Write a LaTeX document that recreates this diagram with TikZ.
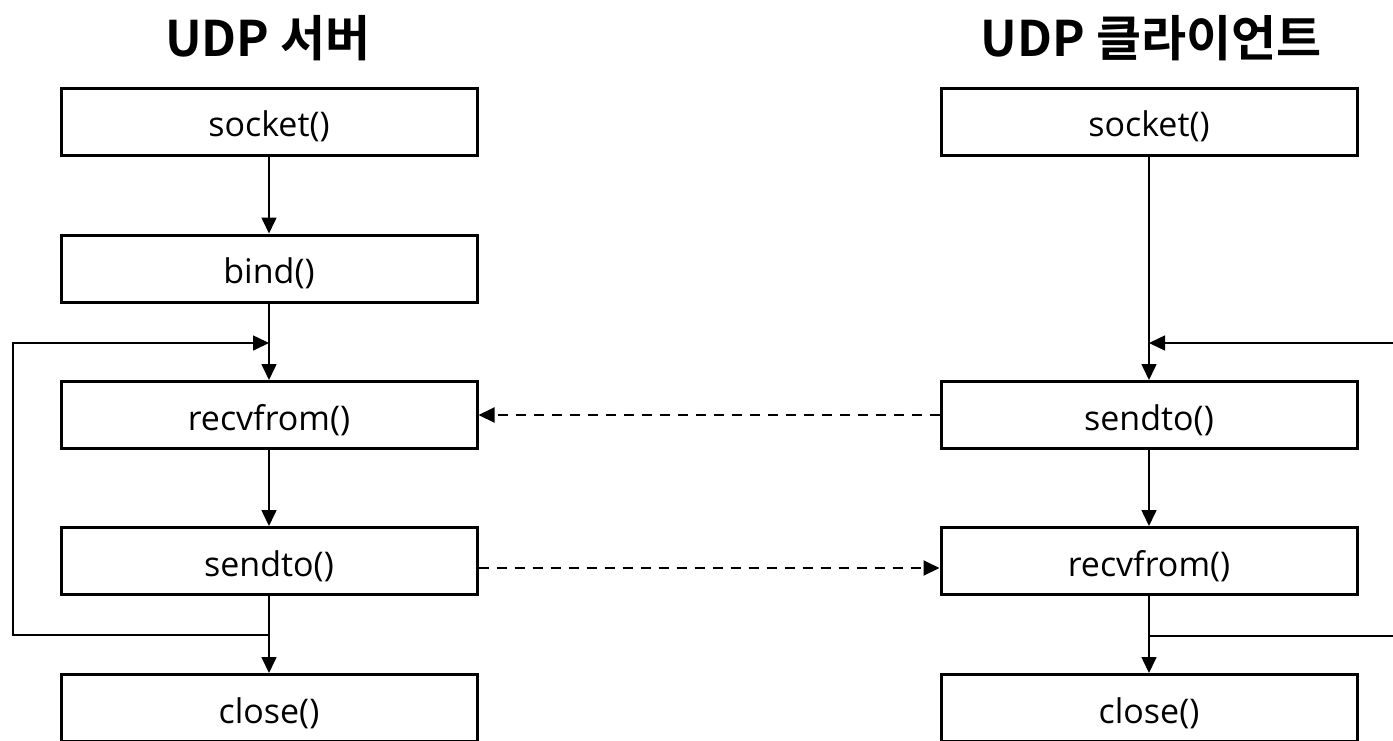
\documentclass[tikz,border=0pt]{standalone}
\usepackage{fontspec}
\setmainfont{Open Sans}
\newfontfamily\kr{Noto Sans CJK KR}[BoldFont={Noto Sans CJK KR Bold}]
\usetikzlibrary{arrows.meta,calc}
\begin{document}
\begin{tikzpicture}[x=1pt,y=-1pt,
  box/.style={draw, line width=3pt, minimum width=416pt, minimum height=67pt, inner sep=0pt, text height=30pt, text depth=0pt, font=\fontsize{34}{40}\selectfont},
  title/.style={font=\kr\bfseries\fontsize{49}{55}\selectfont, inner sep=0pt},
  arr/.style={-{Triangle[length=16pt,width=15pt]}, line width=1.6pt},
  plain/.style={line width=1.6pt},
  darr/.style={-{Triangle[length=16pt,width=15pt]}, line width=2pt, dash pattern=on 10pt off 8pt}]
\useasboundingbox (0,0) rectangle (1393,740);
\node[title] (t1) at (268,38) {UDP 서버};
\node[title] (t2) at (1151,38) {UDP 클라이언트};
% server
\node[box] (ls) at (269,121.5) {socket()};
\node[box] (lb) at (269,268.5) {bind()};
\node[box] (lr) at (269,415) {recvfrom()};
\node[box] (lsd) at (269,561) {sendto()};
\node[box] (lc) at (269,708) {close()};
% client
\node[box] (rs) at (1149,121.5) {socket()};
\node[box] (rsd) at (1149,415) {sendto()};
\node[box] (rr) at (1149,561) {recvfrom()};
\node[box] (rc) at (1149,708) {close()};
% server arrows
\draw[arr] (ls.south) -- (lb.north);
\draw[arr] (lb.south) -- (lr.north);
\draw[arr] (lr.south) -- (lsd.north);
\draw[arr] (lsd.south) -- (lc.north);
\coordinate (lj1) at (269,635);
\coordinate (lbl) at (13,635);
\coordinate (ltl) at (13,343);
\coordinate (lj2) at (269,343);
\draw[arr] (lj1) -- (lbl) -- (ltl) -- (lj2);
% client arrows
\draw[arr] (rs.south) -- (rsd.north);
\draw[arr] (rsd.south) -- (rr.north);
\draw[arr] (rr.south) -- (rc.north);
\coordinate (rtr) at (1393,343);
\coordinate (rj2) at (1149,343);
\draw[arr] (rtr) -- (rj2);
\coordinate (rj1) at (1149,636);
\coordinate (rbr) at (1393,636);
\draw[plain] (rj1) -- (rbr);
% messages
\draw[darr] (rsd.west) -- (lr.east);
\draw[darr] ($(lsd.east)+(0,7)$) -- ($(rr.west)+(0,7)$);
\end{tikzpicture}
\end{document}
